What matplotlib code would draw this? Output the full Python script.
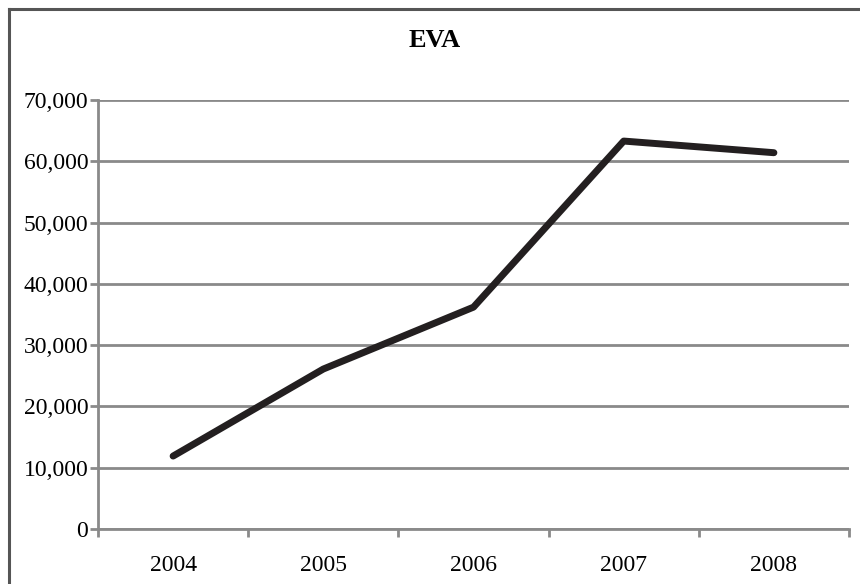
import matplotlib.pyplot as plt
from matplotlib.lines import Line2D
from matplotlib.ticker import FuncFormatter

years = ["2004", "2005", "2006", "2007", "2008"]
eva = [11900, 26100, 36200, 63300, 61400]
y_ticks = [0, 10000, 20000, 30000, 40000, 50000, 60000, 70000]

plt.rcParams['font.family'] = ['Liberation Serif', 'DejaVu Serif']

grid_color = "#8a8a8a"

fig = plt.figure(figsize=(8.6, 5.84), dpi=100)
ax = fig.add_axes([98 / 860, 1 - 529 / 584, (849 - 98) / 860, (529 - 100) / 584])

x = list(range(len(years)))
ax.plot(x, eva, color="#231f20", linewidth=5, solid_capstyle="round", zorder=3)

ax.set_xlim(-0.5, len(years) - 0.5)
ax.set_ylim(0, 70000)
ax.set_yticks(y_ticks)
ax.yaxis.set_major_formatter(FuncFormatter(lambda v, p: f"{int(v):,}"))
ax.grid(axis="y", color=grid_color, linewidth=2)
ax.set_axisbelow(True)

# category boundaries get the tick marks, labels sit between them
ax.set_xticks([i - 0.5 for i in range(len(years) + 1)])
ax.set_xticklabels([])
ax.set_xticks(x, minor=True)
ax.set_xticklabels(years, minor=True)
ax.tick_params(axis="x", which="major", length=6, width=2, color=grid_color, direction="out")
ax.tick_params(axis="x", which="minor", length=0, pad=19, labelsize=17)
ax.tick_params(axis="y", length=6, width=2, color=grid_color, pad=1, labelsize=17)

for side in ["top", "right"]:
    ax.spines[side].set_visible(False)
for side in ["left", "bottom"]:
    ax.spines[side].set_color(grid_color)
    ax.spines[side].set_linewidth(2)

fig.text(0.506, 0.93, "EVA", ha="center", va="center", fontsize=19, fontweight="bold")

# chart border (top and left visible)
fig.add_artist(Line2D([9 / 860, 9 / 860], [0, 1 - 8.5 / 584], color="#555555", linewidth=2.2))
fig.add_artist(Line2D([9 / 860, 1], [1 - 8.5 / 584, 1 - 8.5 / 584], color="#555555", linewidth=2.2))

fig.savefig("out.png", dpi=100)
